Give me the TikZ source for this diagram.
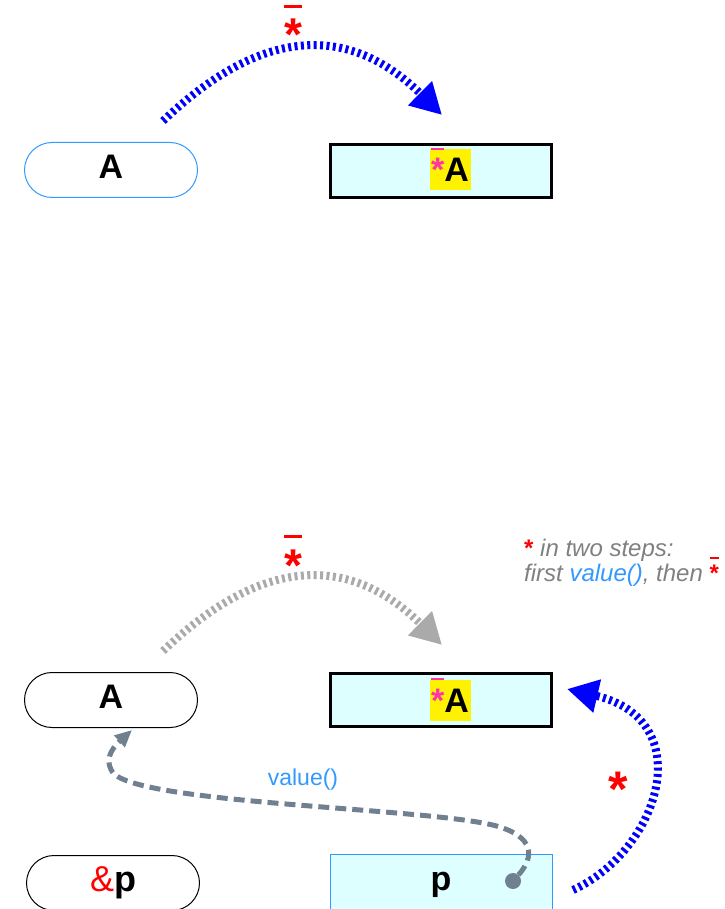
\documentclass[tikz,border=0pt]{standalone}
\usepackage{fontspec}
\setmainfont{Liberation Sans}
\usetikzlibrary{arrows.meta}
\definecolor{dblue}{RGB}{51,153,255}
\definecolor{lcyan}{RGB}{221,255,255}
\definecolor{hpink}{RGB}{255,51,170}
\definecolor{slate}{RGB}{112,128,144}
\definecolor{lgray}{RGB}{170,170,170}
\definecolor{notegray}{RGB}{128,128,128}
\newcommand{\ostar}{\smash{\rlap{\rule[0.93em]{0.389em}{0.06em}}}*}
\newcommand{\lstar}[1]{\smash{\rlap{\rule[0.93em]{#1}{0.065em}}}*}
\begin{document}
\begin{tikzpicture}[x=1pt,y=-1pt,
  pill/.style={draw, rounded corners=27.5pt, minimum width=173pt, minimum height=55pt,
    line width=1pt, inner sep=0pt, font=\fontsize{34}{40}\selectfont\bfseries,
    text height=24pt, text depth=7pt},
  valbox/.style={draw, line width=3pt, fill=lcyan, minimum width=221pt, minimum height=53pt, inner sep=0pt},
  ptrbox/.style={draw=dblue, line width=1pt, fill=lcyan, minimum width=222pt, minimum height=55pt,
    inner sep=0pt, font=\fontsize{34}{40}\selectfont\bfseries, text height=24pt, text depth=7pt},
  hilite/.style={fill=yellow, minimum size=41pt, inner sep=0pt,
    font=\fontsize{34}{40}\selectfont\bfseries, text height=24pt, text depth=0pt},
  derefarc/.style={line width=8pt, dash pattern=on 3pt off 3.4pt, -{Triangle[length=31pt,width=32pt]}},
  callarc/.style={slate, line width=5pt, dash pattern=on 11pt off 6pt, -{Triangle[length=17pt,width=15pt]}},
  bigstar/.style={text=red, inner sep=0pt, anchor=base},
  notetext/.style={text=notegray, font=\fontsize{24}{28}\selectfont\itshape, inner sep=0pt, anchor=base west}
]
\useasboundingbox (0,0) rectangle (724,909);
\clip (0,0) rectangle (724,909);

% ---------- top part ----------
\node[pill, draw=dblue] (A1) at (111,170) {A};
\node[valbox] (V1) at (441,171) {};
\node[hilite] (H1) at (450,170) {\textcolor{hpink}{\ostar}A};
\coordinate (s1) at (163,121);
\coordinate (e1) at (442,115);
\draw[derefarc, blue] (s1) .. controls (260,28) and (348,22) .. (e1);
\node[bigstar, font=\fontsize{46}{50}\selectfont\bfseries] (L1) at (293,51) {\lstar{18pt}};

% ---------- bottom part ----------
\node[pill] (A2) at (111,700) {A};
\node[valbox] (V2) at (441,700) {};
\node[hilite] (H2) at (450,700) {\textcolor{hpink}{\ostar}A};
\coordinate (s2) at (163,651);
\coordinate (e2) at (442,645);
\draw[derefarc, lgray] (s2) .. controls (260,558) and (348,552) .. (e2);
\node[bigstar, font=\fontsize{46}{50}\selectfont\bfseries] (L2) at (293,581) {\lstar{18pt}};

\node[notetext] (N1) at (524,556) {\textcolor{red}{\bfseries\upshape *} in two steps:};
\node[notetext] (N2) at (524,581) {first \textcolor{dblue}{value()}, then \textcolor{red}{\bfseries\upshape\ostar}};

\node[pill, font=\fontsize{36}{40}\selectfont\bfseries] (RP) at (113,883) {\textcolor{red}{\mdseries\&}p};
\node[ptrbox] (P) at (441,882) {p};
\node[circle, fill=slate, minimum size=16pt, inner sep=0pt] (dot) at (513,881) {};

\coordinate (ce) at (132,730);
\draw[callarc] (dot) .. controls (530,862) and (540,840) .. (500,827)
  .. controls (440,808) and (150,805) .. (114,774)
  .. controls (104,762) and (110,750) .. (ce);
\node[text=dblue, font=\fontsize{23}{27}\selectfont, inner sep=0pt] (VL) at (303,780) {value()};

\coordinate (s3) at (573,890);
\coordinate (e3) at (567,689);
\draw[derefarc, blue] (s3) .. controls (660,850) and (700,720) .. (e3);
\node[bigstar, font=\fontsize{50}{54}\selectfont\bfseries] (L3) at (618,806) {*};
\end{tikzpicture}
\end{document}
